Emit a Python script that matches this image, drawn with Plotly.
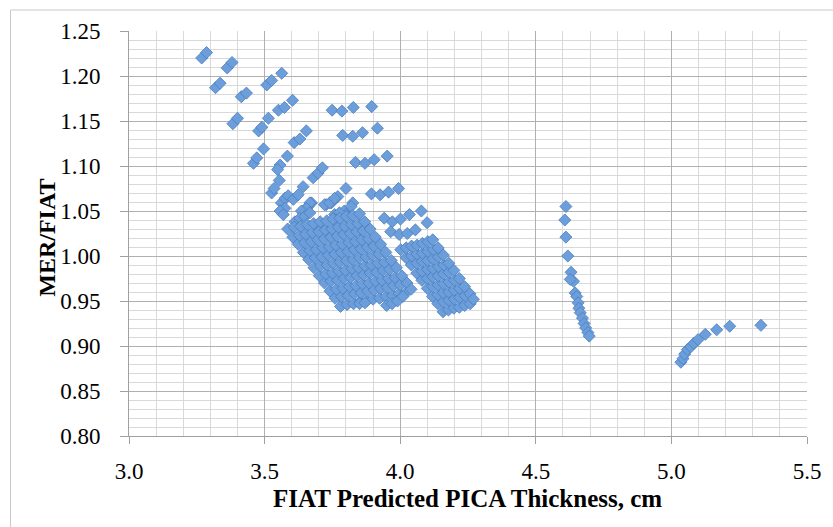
import plotly.graph_objects as go

# ---- data (FIAT thickness [cm], MER/FIAT) ----
upper_x = [3.268, 3.286, 3.319, 3.336, 3.362, 3.380, 3.383, 3.400, 3.414, 3.433,
           3.459, 3.471, 3.478, 3.490, 3.496, 3.508, 3.526, 3.563, 3.514, 3.551,
           3.573, 3.603, 3.609, 3.630, 3.654, 3.584, 3.557, 3.548, 3.554, 3.526,
           3.535, 3.642, 3.679, 3.697, 3.713, 3.800, 3.770, 3.746, 3.727, 3.825,
           3.749, 3.785, 3.827, 3.895, 3.788, 3.825, 3.861, 3.916, 3.835, 3.870,
           3.904, 3.952, 3.894, 3.926, 3.957, 3.994]
upper_y = [1.220, 1.226, 1.187, 1.192, 1.209, 1.215, 1.147, 1.153, 1.177, 1.181,
           1.103, 1.109, 1.139, 1.143, 1.119, 1.190, 1.195, 1.203, 1.153, 1.162,
           1.165, 1.173, 1.126, 1.130, 1.139, 1.111, 1.101, 1.096, 1.084, 1.070,
           1.075, 1.077, 1.087, 1.092, 1.098, 1.075, 1.066, 1.059, 1.057, 1.059,
           1.162, 1.161, 1.165, 1.166, 1.134, 1.133, 1.137, 1.142, 1.104, 1.103,
           1.107, 1.111, 1.069, 1.068, 1.071, 1.075]

mid_x = [3.562, 3.575, 3.587, 3.606, 3.624, 3.562, 3.575, 3.642, 3.660, 3.673,
         3.758, 3.794, 3.800, 3.557, 3.569, 3.667, 3.654, 3.636, 3.721, 3.740,
         3.758, 3.819, 3.612, 3.630, 3.648, 3.667, 3.776, 3.763, 3.697, 3.733,
         3.861, 3.855, 3.941, 3.971, 4.001, 4.034, 4.078, 4.099, 3.965, 3.996,
         4.026, 4.056]
mid_y = [1.059, 1.064, 1.067, 1.063, 1.068, 1.050, 1.053, 1.048, 1.055, 1.059,
         1.046, 1.050, 1.046, 1.050, 1.046, 1.059, 1.053, 1.050, 1.057, 1.059,
         1.064, 1.055, 1.038, 1.042, 1.044, 1.048, 1.048, 1.040, 1.033, 1.027,
         1.035, 1.027, 1.042, 1.038, 1.041, 1.046, 1.050, 1.037, 1.027, 1.024,
         1.025, 1.029]

main_x = [3.585, 3.604, 3.624, 3.643, 3.663, 3.682, 3.702, 3.721, 3.741, 3.760, 3.780,
          3.609, 3.628, 3.648, 3.667, 3.687, 3.706, 3.726, 3.745, 3.765, 3.784, 3.804,
          3.633, 3.652, 3.672, 3.691, 3.711, 3.730, 3.750, 3.769, 3.789, 3.808, 3.828,
          3.657, 3.676, 3.696, 3.715, 3.735, 3.754, 3.774, 3.793, 3.813, 3.832, 3.852,
          3.681, 3.700, 3.720, 3.739, 3.759, 3.778, 3.798, 3.817, 3.837, 3.856, 3.876,
          3.705, 3.724, 3.744, 3.763, 3.783, 3.802, 3.822, 3.841, 3.861, 3.880, 3.900,
          3.729, 3.748, 3.768, 3.787, 3.807, 3.826, 3.846, 3.865, 3.885, 3.904, 3.924,
          3.753, 3.772, 3.792, 3.811, 3.831, 3.850, 3.870, 3.889, 3.909, 3.928, 3.948,
          3.777, 3.796, 3.816, 3.835, 3.855, 3.874, 3.894, 3.913, 3.933, 3.952, 3.972,
          3.801, 3.820, 3.840, 3.859, 3.879, 3.898, 3.918, 3.937, 3.957, 3.976, 3.996,
          3.825, 3.844, 3.864, 3.883, 3.903, 3.922, 3.942, 3.961, 3.981, 4.000, 4.020,
          3.850, 3.869, 3.889, 3.908, 3.928, 3.947, 3.967, 3.986, 4.006, 4.025, 4.040,
          3.850, 3.870, 3.950, 3.970, 3.990, 4.010]
main_y = [1.030, 1.021, 1.013, 1.004, 0.996, 0.987, 0.978, 0.970, 0.961, 0.953, 0.944,
          1.032, 1.023, 1.015, 1.006, 0.998, 0.989, 0.980, 0.972, 0.963, 0.955, 0.946,
          1.033, 1.024, 1.016, 1.007, 0.999, 0.990, 0.981, 0.973, 0.964, 0.956, 0.947,
          1.035, 1.026, 1.018, 1.009, 1.001, 0.992, 0.983, 0.975, 0.966, 0.958, 0.949,
          1.036, 1.027, 1.019, 1.010, 1.002, 0.993, 0.984, 0.976, 0.967, 0.959, 0.950,
          1.038, 1.029, 1.021, 1.012, 1.004, 0.995, 0.986, 0.978, 0.969, 0.961, 0.952,
          1.039, 1.030, 1.022, 1.013, 1.005, 0.996, 0.987, 0.979, 0.970, 0.962, 0.953,
          1.041, 1.032, 1.024, 1.015, 1.007, 0.998, 0.989, 0.981, 0.972, 0.964, 0.955,
          1.042, 1.033, 1.025, 1.016, 1.008, 0.999, 0.990, 0.982, 0.973, 0.965, 0.956,
          1.044, 1.035, 1.027, 1.018, 1.010, 1.001, 0.992, 0.984, 0.975, 0.967, 0.958,
          1.045, 1.036, 1.028, 1.019, 1.011, 1.002, 0.993, 0.985, 0.976, 0.968, 0.959,
          1.047, 1.038, 1.030, 1.021, 1.013, 1.004, 0.995, 0.987, 0.978, 0.970, 0.963,
          0.947, 0.948, 0.945, 0.947, 0.950, 0.955]

second_x = [4.002, 4.022, 4.041, 4.061, 4.080, 4.100, 4.119, 4.139, 4.158,
            4.022, 4.042, 4.061, 4.081, 4.100, 4.120, 4.139, 4.159, 4.178,
            4.042, 4.062, 4.081, 4.101, 4.120, 4.140, 4.159, 4.179, 4.198,
            4.062, 4.082, 4.101, 4.121, 4.140, 4.160, 4.179, 4.199, 4.218,
            4.082, 4.102, 4.121, 4.141, 4.160, 4.180, 4.199, 4.219, 4.238,
            4.102, 4.122, 4.141, 4.161, 4.180, 4.200, 4.219, 4.239, 4.258,
            4.120, 4.140, 4.159, 4.179, 4.198, 4.218, 4.237, 4.257, 4.270]
second_y = [1.007, 0.998, 0.990, 0.981, 0.973, 0.964, 0.955, 0.947, 0.938,
            1.009, 1.000, 0.992, 0.983, 0.975, 0.966, 0.957, 0.949, 0.940,
            1.011, 1.002, 0.994, 0.985, 0.977, 0.968, 0.959, 0.951, 0.942,
            1.012, 1.003, 0.995, 0.986, 0.978, 0.969, 0.960, 0.952, 0.943,
            1.014, 1.005, 0.997, 0.988, 0.980, 0.971, 0.962, 0.954, 0.945,
            1.016, 1.007, 0.999, 0.990, 0.982, 0.973, 0.964, 0.956, 0.947,
            1.018, 1.009, 1.001, 0.992, 0.984, 0.975, 0.966, 0.958, 0.952]

column_x = [4.611, 4.607, 4.611, 4.618, 4.630, 4.639, 4.627, 4.645, 4.651, 4.656,
            4.659, 4.664, 4.672, 4.678, 4.684, 4.692, 4.697]
column_y = [1.055, 1.040, 1.021, 1.000, 0.982, 0.972, 0.974, 0.959, 0.955, 0.948,
            0.942, 0.937, 0.931, 0.925, 0.920, 0.915, 0.911]

curve_x = [5.035, 5.043, 5.049, 5.059, 5.071, 5.083, 5.098, 5.125, 5.167, 5.215, 5.330]
curve_y = [0.882, 0.886, 0.891, 0.896, 0.899, 0.903, 0.907, 0.913, 0.918, 0.922, 0.923]

x_title = "FIAT Predicted PICA Thickness, cm"
y_title = "MER/FIAT"

all_x = upper_x + mid_x + main_x + second_x + column_x + curve_x
all_y = upper_y + mid_y + main_y + second_y + column_y + curve_y

W, H = 833, 527
ML, MR, MT, MB = 129, 20, 31, 91
PW, PH = W - ML - MR, H - MT - MB

def px2paper_x(px):
    return (px - ML) / PW

def px2paper_y(py):
    return (H - MB - py) / PH

serif = "Liberation Serif"
major = "#b0b0b0"
minor = "#d9d9d9"

fig = go.Figure(go.Scatter(
    x=all_x, y=all_y, mode="markers",
    marker=dict(symbol="diamond", size=9.3, color="#6c9edc",
                line=dict(color="#4a7ebb", width=0.8)),
    showlegend=False, hoverinfo="x+y"))

fig.update_layout(
    width=W, height=H,
    margin=dict(l=ML, r=MR, t=MT, b=MB),
    paper_bgcolor="white", plot_bgcolor="white",
    font=dict(family=serif, color="black", size=23),
    xaxis=dict(range=[3.0, 5.5], tick0=3.0, dtick=0.5, tickformat=".1f",
               showgrid=True, gridcolor=major, gridwidth=1,
               minor=dict(dtick=0.1, showgrid=True, gridcolor=minor, gridwidth=1),
               showline=True, linecolor="#a0a0a0", linewidth=1,
               ticks="outside", ticklen=7, tickcolor="#a0a0a0",
               zeroline=False, ticklabelstandoff=7,
               tickfont=dict(family=serif, size=23, color="black")),
    yaxis=dict(range=[0.80, 1.25], tick0=0.80, dtick=0.05, tickformat=".2f",
               showgrid=True, gridcolor=major, gridwidth=1,
               minor=dict(dtick=0.01, showgrid=True, gridcolor=minor, gridwidth=1),
               showline=True, linecolor="#a0a0a0", linewidth=1,
               ticks="outside", ticklen=8, tickcolor="#a0a0a0",
               zeroline=False, ticklabelstandoff=15,
               tickfont=dict(family=serif, size=23, color="black")),
    annotations=[
        dict(text="<b>%s</b>" % x_title, xref="paper", yref="paper",
             x=px2paper_x(470), y=px2paper_y(499), xanchor="center", yanchor="middle",
             showarrow=False, font=dict(family=serif, size=25, color="black")),
        dict(text="<b>%s</b>" % y_title, xref="paper", yref="paper",
             x=px2paper_x(46), y=px2paper_y(238), xanchor="center", yanchor="middle",
             textangle=-90, showarrow=False,
             font=dict(family=serif, size=24, color="black")),
    ],
    shapes=[
        dict(type="line", xref="paper", yref="paper",
             x0=px2paper_x(9.5), x1=px2paper_x(900), y0=px2paper_y(10), y1=px2paper_y(10),
             line=dict(color="#c8c8c8", width=1)),
        dict(type="line", xref="paper", yref="paper",
             x0=px2paper_x(9.5), x1=px2paper_x(9.5), y0=px2paper_y(10), y1=px2paper_y(600),
             line=dict(color="#c8c8c8", width=1)),
    ],
)

fig.write_html("out.html")
